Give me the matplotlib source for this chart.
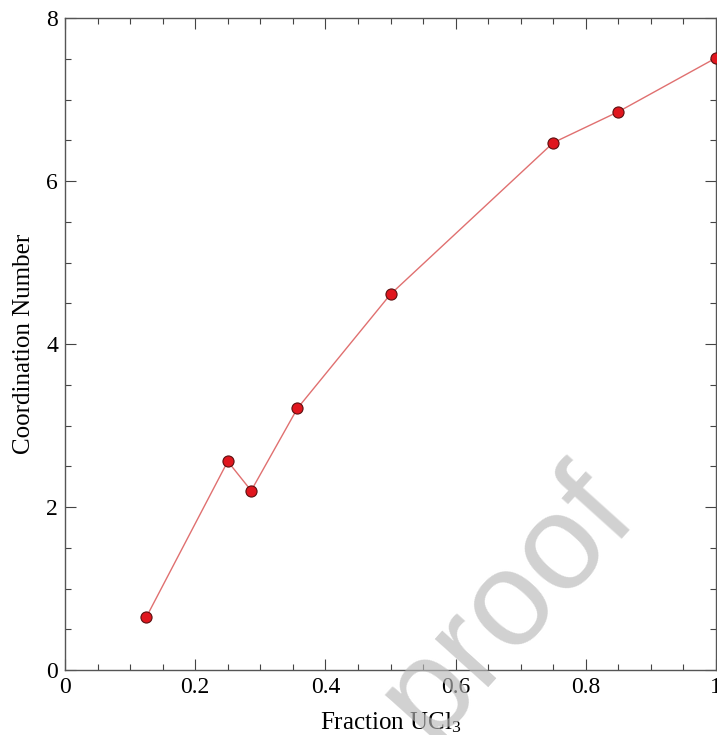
import matplotlib
matplotlib.use('Agg')
import matplotlib.pyplot as plt
from matplotlib.ticker import MultipleLocator

plt.rcParams['font.family'] = ['Liberation Serif', 'DejaVu Serif']
plt.rcParams['mathtext.fontset'] = 'custom'
plt.rcParams['mathtext.rm'] = 'Liberation Serif'
plt.rcParams['mathtext.it'] = 'Liberation Serif:italic'

# Data
fraction_ucl3 = [0.125, 0.25, 0.286, 0.357, 0.5, 0.75, 0.85, 1.0]
coordination = [0.65, 2.56, 2.20, 3.21, 4.61, 6.47, 6.85, 7.51]

x_ticks = [0, 0.2, 0.4, 0.6, 0.8, 1]
x_ticklabels = ['0', '0.2', '0.4', '0.6', '0.8', '1']
y_ticks = [0, 2, 4, 6, 8]
y_ticklabels = ['0', '2', '4', '6', '8']

fig = plt.figure(figsize=(7.17, 7.35), dpi=100)
ax = fig.add_axes([65 / 717, 65 / 735, 651 / 717, 652 / 735])

ax.plot(fraction_ucl3, coordination, color='#e07070', lw=1.0,
        marker='o', markersize=8, markerfacecolor='#e0161e',
        markeredgecolor='#5a1010', markeredgewidth=0.8, clip_on=False,
        zorder=3)

ax.set_xlim(0, 1)
ax.set_ylim(0, 8)
ax.set_xticks(x_ticks)
ax.set_xticklabels(x_ticklabels)
ax.set_yticks(y_ticks)
ax.set_yticklabels(y_ticklabels)
ax.xaxis.set_minor_locator(MultipleLocator(0.05))
ax.yaxis.set_minor_locator(MultipleLocator(0.5))

ax.tick_params(which='both', direction='in', top=True, right=True,
               color='#444444', width=0.8, labelsize=17)
ax.tick_params(which='major', length=8, pad=5)
ax.tick_params(which='minor', length=4)
for sp in ax.spines.values():
    sp.set_color('#555555')
    sp.set_linewidth(1.0)

ax.set_xlabel('Fraction UCl$_3$', fontsize=18, labelpad=9)
ax.set_ylabel('Coordination Number', fontsize=18, labelpad=8)

# watermark
fig.text(0.708, 0.177, 'proof', fontsize=98, family='Liberation Sans',
         color='#b8b8b8', alpha=0.65, rotation=48,
         ha='center', va='center', zorder=10)

fig.savefig('out.png', dpi=100)
